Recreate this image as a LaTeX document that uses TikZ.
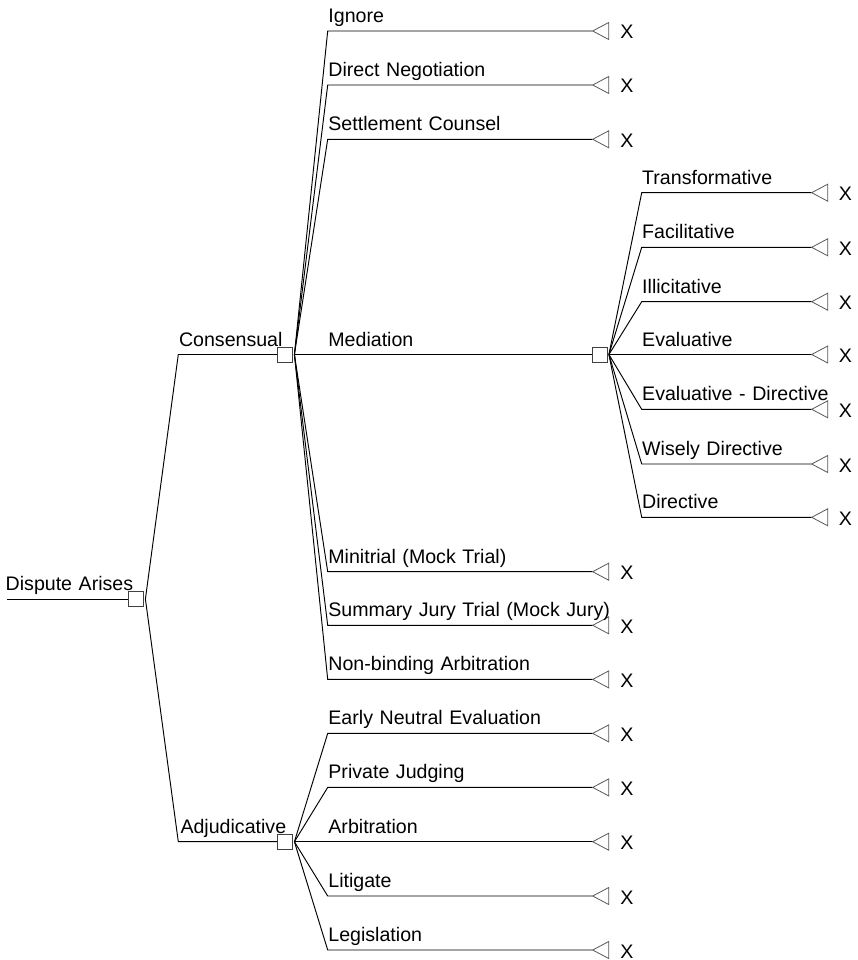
\documentclass[tikz,border=0pt]{standalone}
\usepackage{fontspec}
\setmainfont{Liberation Sans}
\newcommand{\lbfont}{\fontsize{19.6pt}{23pt}\selectfont\spaceskip=6.6pt plus 1pt}
\begin{document}
\begin{tikzpicture}[x=1pt,y=-1pt,
  branch/.style={line width=0.95pt, black},
  dbox/.style={draw=black!75, line width=0.8pt, minimum size=15pt, inner sep=0pt, fill=white},
  tri/.style={draw=black!65, line width=0.8pt, fill=white},
  lbl/.style={anchor=base west, inner sep=0pt, font=\lbfont},
]
\useasboundingbox[fill=white] (0,0) rectangle (857,960);

% decision boxes
\node[dbox] (root) at (135.5,599) {};
\node[dbox] (cons) at (285,354.5) {};
\node[dbox] (adj)  at (285,841.7) {};
\node[dbox] (med)  at (599.5,354.5) {};

% root
\coordinate (start) at (7,599);
\draw[branch] (start) -- (root.west);
\node[lbl] (rootlbl) at ([shift={(-1.5,-8.3)}]start) {Dispute Arises};

% consensual / adjudicative
\coordinate (consL) at (178.3,354.5);
\coordinate (adjL) at (178.3,841.7);
\draw[branch] ([xshift=2pt]root.east) -- (consL) -- (cons.west);
\draw[branch] ([xshift=2pt]root.east) -- (adjL) -- (adj.west);
\node[lbl] (conslbl) at ([shift={(0.5,-8.5)}]consL) {Consensual};
\node[lbl] (adjlbl) at ([shift={(2,-8.5)}]adjL) {Adjudicative};

% mediation branch
\coordinate (medL) at (327.7,354.5);
\draw[branch] ([xshift=1.5pt]cons.east) -- (medL) -- (med.west);
\node[lbl] (medlbl) at ([shift={(0.5,-8.5)}]medL) {Mediation};

% consensual terminal branches
\foreach \i/\y/\t in {1/31/Ignore, 2/85/Direct Negotiation, 3/139.3/Settlement Counsel,
  4/571.7/Minitrial (Mock Trial), 5/625.3/Summary Jury Trial (Mock Jury), 6/679.4/Non-binding Arbitration} {
  \coordinate (cs\i) at (327.7,\y);
  \coordinate (ce\i) at (592.7,\y);
  \draw[branch] ([xshift=1.5pt]cons.east) -- (cs\i) -- (ce\i);
  \draw[tri] (ce\i) -- ++(16,-8.5) -- ++(0,17) -- cycle;
  \node[lbl] (cl\i) at ([shift={(0.5,-8.5)}]cs\i) {\t};
  \node[lbl] (cx\i) at ([shift={(27.5,8)}]ce\i) {X};
}

% adjudicative terminal branches
\foreach \i/\y/\t in {1/733.4/Early Neutral Evaluation, 2/787.4/Private Judging, 3/841.7/Arbitration,
  4/896/Litigate, 5/950/Legislation} {
  \coordinate (as\i) at (327.7,\y);
  \coordinate (ae\i) at (592.7,\y);
  \draw[branch] ([xshift=1.5pt]adj.east) -- (as\i) -- (ae\i);
  \draw[tri] (ae\i) -- ++(16,-8.5) -- ++(0,17) -- cycle;
  \node[lbl] (al\i) at ([shift={(0.5,-8.5)}]as\i) {\t};
  \node[lbl] (ax\i) at ([shift={(27.5,8)}]ae\i) {X};
}

% mediation terminal branches
\foreach \i/\y/\t in {1/192.7/Transformative, 2/247.3/Facilitative, 3/301.7/Illicitative,
  4/354.5/Evaluative, 5/409.3/Evaluative - Directive, 6/464/Wisely Directive, 7/517.3/Directive} {
  \coordinate (ms\i) at (641.7,\y);
  \coordinate (me\i) at (811.7,\y);
  \draw[branch] ([xshift=1.5pt]med.east) -- (ms\i) -- (me\i);
  \draw[tri] (me\i) -- ++(16,-8.5) -- ++(0,17) -- cycle;
  \node[lbl] (ml\i) at ([shift={(0.3,-8.5)}]ms\i) {\t};
  \node[lbl] (mx\i) at ([shift={(27,8)}]me\i) {X};
}
\end{tikzpicture}
\end{document}
